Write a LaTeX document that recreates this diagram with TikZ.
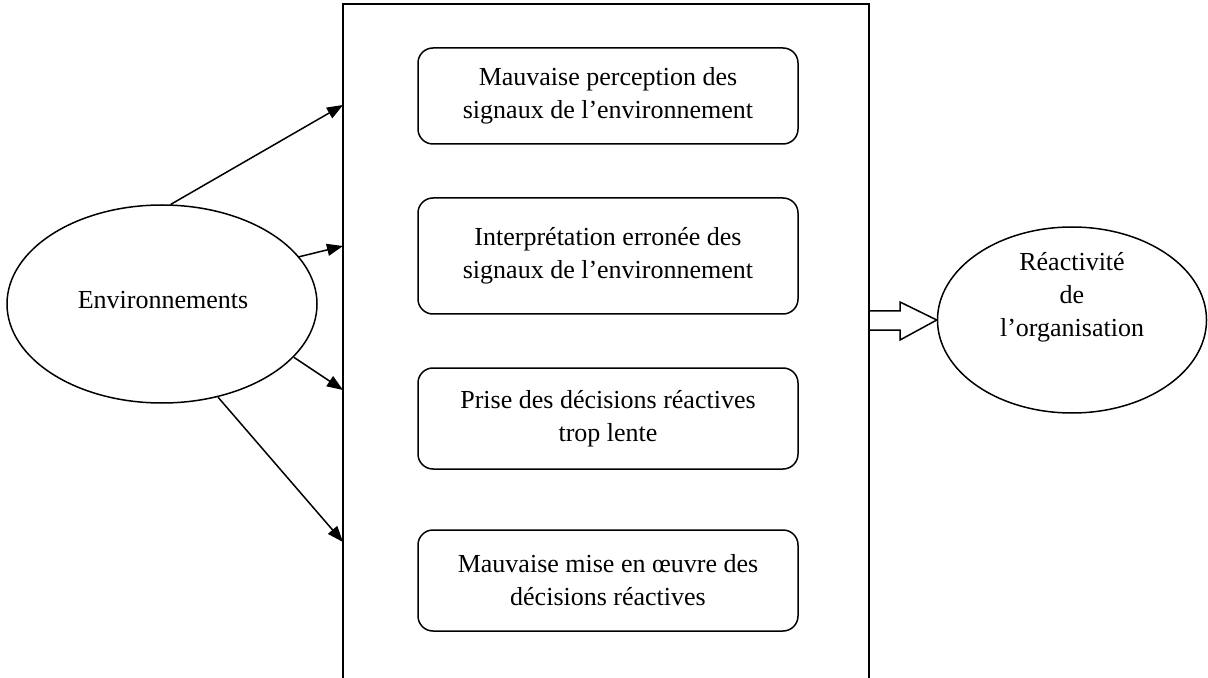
\documentclass[tikz,border=0pt]{standalone}
\usepackage{fontspec}
\setmainfont{Liberation Serif}
\usetikzlibrary{arrows.meta,shapes.geometric}
\begin{document}
\begin{tikzpicture}[x=0.5pt,y=-0.5pt,
  every node/.style={font=\fontsize{13}{16.5}\selectfont},
  frameline/.style={line width=0.75pt},
  cause/.style={draw, line width=0.75pt, rounded corners=7.5pt,
    minimum width=190pt, align=center, inner sep=0pt},
  oval/.style={draw, ellipse, line width=0.75pt, inner sep=0pt},
  link/.style={line width=0.75pt, -{Triangle[length=8pt,width=6pt]}},
]
\useasboundingbox (0,0) rectangle (1208,678);

% container of the four causes (open at the bottom)
\draw[frameline] (343,700) -- (343,4) -- (869,4) -- (869,700);

% the four causes
\node[cause, minimum height=48pt]   (c1) at (608,96)    {Mauvaise perception des\\signaux de l’environnement};
\node[cause, minimum height=58pt]   (c2) at (608,256)   {Interprétation erronée des\\signaux de l’environnement};
\node[cause, minimum height=50.5pt] (c3) at (608,418.5) {Prise des décisions réactives\\trop lente};
\node[cause, minimum height=50.5pt] (c4) at (608,580.5) {Mauvaise mise en œuvre des\\décisions réactives};

% environment and outcome
\node[oval, minimum width=155pt, minimum height=99pt] (env) at (162,304) {};
\node (envtext) at (163,300) {Environnements};
\node[oval, minimum width=134.5pt, minimum height=93pt] (react) at (1072,320) {};
\node[align=center] (reacttext) at (1072,297) {Réactivité\\de\\l’organisation};

% entry points on the container
\coordinate (in1) at (343,105);
\coordinate (in2) at (343,246);
\coordinate (in3) at (343,390);
\coordinate (in4) at (343,542);

\draw[link] (env.85)  -- (in1);
\draw[link] (env.19)  -- (in2);
\draw[link] (env.-22) -- (in3);
\draw[link] (env.-59) -- (in4);

% hollow block arrow towards the outcome
\coordinate (out) at (869,320);
\draw[frameline, fill=white] ([yshift=4.5pt]out) -- ++(31,0) -- ++(0,-9) -- (react.west)
  -- (900,340) -- (900,330) -- ([yshift=-5pt]out) -- cycle;
\end{tikzpicture}
\end{document}
